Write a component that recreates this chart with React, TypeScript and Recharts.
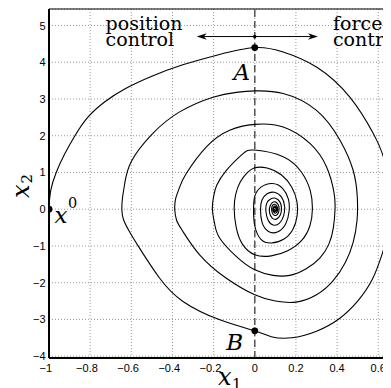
import React from 'react';
import {
  ComposedChart,
  Line,
  Scatter,
  XAxis,
  YAxis,
  CartesianGrid,
  ReferenceLine,
  ReferenceDot,
} from 'recharts';

const X1_TICKS = [-1, -0.8, -0.6, -0.4, -0.2, 0, 0.2, 0.4, 0.6];
const X2_TICKS = [-4, -3, -2, -1, 0, 1, 2, 3, 4, 5];

// trajectory as [x1, x2], in time order (clockwise)
const LOOP_1 = [
  [-1, 0], [-0.992, 0.5], [-0.965, 1.0], [-0.924, 1.5], [-0.874, 2.0], [-0.812, 2.5],
  [-0.73, 2.92], [-0.63, 3.28], [-0.5, 3.62], [-0.35, 3.93], [-0.18, 4.2], [0, 4.4],
  [0.138, 4.28], [0.3, 3.87], [0.462, 3.05], [0.576, 2.06], [0.633, 1.25], [0.655, 0.3],
  [0.658, 0], [0.648, -0.6], [0.62, -1.2], [0.572, -1.9], [0.5, -2.5], [0.41, -2.98],
  [0.3, -3.32], [0.18, -3.5], [0.08, -3.47], [0, -3.31],
  [-0.17, -3.01], [-0.349, -2.51], [-0.462, -1.88], [-0.56, -1.06], [-0.61, -0.6],
  [-0.638, -0.28], [-0.646, 0],
];
const LOOP_2 = [
  [-0.643, 0.3], [-0.632, 0.7], [-0.6, 1.3], [-0.5, 2.04], [-0.365, 2.65], [-0.203, 3.05],
  [-0.09, 3.18], [0, 3.22],
  [0.138, 3.15], [0.3, 2.69], [0.414, 1.88], [0.478, 1.06], [0.498, 0.35], [0.497, -0.3],
  [0.478, -0.9], [0.44, -1.45], [0.38, -1.95], [0.3, -2.33], [0.2, -2.53], [0.1, -2.5], [0, -2.33],
  [-0.138, -1.88], [-0.268, -1.24], [-0.35, -0.6], [-0.38, -0.3], [-0.389, 0],
];
const LOOP_3 = [
  [-0.384, 0.3], [-0.365, 0.6], [-0.333, 0.97], [-0.235, 1.7], [-0.122, 2.15], [0, 2.31],
  [0.138, 2.24], [0.268, 1.79], [0.349, 1.15], [0.385, 0.45], [0.39, 0], [0.382, -0.5],
  [0.36, -0.95], [0.316, -1.33], [0.25, -1.62], [0.17, -1.8], [0.089, -1.8], [0, -1.65],
  [-0.089, -1.29], [-0.17, -0.79], [-0.195, -0.4], [-0.206, 0],
];
const LOOP_4 = [
  [-0.2, 0.35], [-0.185, 0.65], [-0.138, 1.06], [-0.06, 1.5], [0, 1.61],
  [0.138, 1.43], [0.228, 1.0], [0.27, 0.5], [0.28, 0], [0.268, -0.45], [0.228, -0.85],
  [0.16, -1.13], [0.08, -1.27], [0, -1.24],
  [-0.06, -0.95], [-0.09, -0.5], [-0.1, 0],
];
const LOOP_5 = [
  [-0.093, 0.4], [-0.07, 0.75], [-0.035, 1.0], [0, 1.13], [0.06, 1.12], [0.13, 0.93],
  [0.18, 0.6], [0.205, 0.2], [0.205, -0.2], [0.185, -0.55], [0.14, -0.82], [0.08, -0.92],
  [0.03, -0.82], [0, -0.45], [-0.006, 0],
];
const SPIRAL_CORE = [
  [0, 0.35], [0.03, 0.6], [0.085, 0.7], [0.135, 0.57], [0.163, 0.28], [0.167, -0.05], [0.15, -0.4],
  [0.11, -0.62], [0.065, -0.6], [0.035, -0.35], [0.028, 0],
  [0.035, 0.25], [0.06, 0.42], [0.095, 0.46], [0.13, 0.33], [0.145, 0.08], [0.14, -0.18],
  [0.12, -0.38], [0.09, -0.43], [0.065, -0.3], [0.054, -0.05],
  [0.058, 0.16], [0.075, 0.27], [0.1, 0.3], [0.122, 0.2], [0.13, 0.02], [0.124, -0.16],
  [0.105, -0.27], [0.085, -0.24], [0.072, -0.1],
  [0.074, 0.08], [0.085, 0.18], [0.1, 0.2], [0.114, 0.12], [0.118, -0.02], [0.11, -0.14],
  [0.097, -0.17], [0.085, -0.1], [0.082, 0.02],
  [0.087, 0.11], [0.099, 0.13], [0.109, 0.07], [0.111, -0.03], [0.104, -0.1], [0.094, -0.09], [0.088, -0.02],
  [0.091, 0.06], [0.099, 0.08], [0.106, 0.03], [0.105, -0.04], [0.098, -0.06], [0.092, -0.02],
  [0.094, 0.04], [0.099, 0.045], [0.103, 0.01], [0.101, -0.03], [0.097, -0.035], [0.095, 0],
];

// x0, A, B
const MARKED = [[-1, 0], [0, 4.4], [0, -3.31]];

const SWITCH_X1 = 0;
const ARROW_X2 = 4.7;
const ARROW_ENDS = [-0.282, 0.307];

const LABELS = [
  { x1: -0.725, x2: 4.88, text: 'position', kind: 'text' },
  { x1: -0.725, x2: 4.43, text: 'control', kind: 'text' },
  { x1: 0.38, x2: 4.88, text: 'force', kind: 'text' },
  { x1: 0.38, x2: 4.43, text: 'control', kind: 'text' },
  { x1: -0.063, x2: 3.51, text: 'A', kind: 'math' },
  { x1: -0.097, x2: -3.845, text: 'B', kind: 'math' },
  { x1: -0.973, x2: -0.375, text: 'x', sup: '0', kind: 'math' },
];

const toPts = (rows: number[][]) => rows.map(([x1, x2]) => ({ x1, x2 }));
const trajectory = toPts([...LOOP_1, ...LOOP_2, ...LOOP_3, ...LOOP_4, ...LOOP_5, ...SPIRAL_CORE]);
const markedPts = toPts(MARKED);

const SANS = "'Liberation Sans', Arial, Helvetica, sans-serif";
const SERIF = "'DejaVu Serif', 'Liberation Serif', serif";

const fmt = (v: number) => (v < 0 ? '\u2212' + String(-v) : String(v));

const XTick = (props: any) => {
  const { x, y, payload } = props;
  const v = payload.value;
  return (
    <text x={x} y={y + 14} dx={v < 0 ? -3.2 : 0} textAnchor="middle" fontSize={11} fontFamily={SANS} fill="#000">
      {fmt(v)}
    </text>
  );
};

const YTick = (props: any) => {
  const { x, y, payload } = props;
  return (
    <text x={x - 3.5} y={y + 4} textAnchor="end" fontSize={11} fontFamily={SANS} fill="#000">
      {fmt(payload.value)}
    </text>
  );
};

const Arrow = (p: any) => {
  const { x1, y1, x2, y2 } = p;
  const ang = Math.atan2(y2 - y1, x2 - x1);
  const c = Math.cos(ang);
  const s = Math.sin(ang);
  const L = 10;
  const W = 3.2;
  const bx = x2 - L * c;
  const by = y2 - L * s;
  const nx = x2 - L * 0.7 * c;
  const ny = y2 - L * 0.7 * s;
  return (
    <g>
      <line x1={x1} y1={y1} x2={nx} y2={ny} stroke="#000" strokeWidth={1} />
      <path d={`M${x2},${y2} L${bx - s * W},${by + c * W} L${nx},${ny} L${bx + s * W},${by - c * W} Z`} fill="#000" />
      <circle cx={x1} cy={y1} r={1.6} fill="#000" />
    </g>
  );
};

const Annotation = (lab: any) => (p: any) => {
  const { cx, cy } = p;
  if (lab.kind === 'text') {
    return (
      <text x={cx} y={cy} fontSize={19} fontFamily={SERIF} fill="#000">
        {lab.text}
      </text>
    );
  }
  return (
    <text x={cx} y={cy} textAnchor={lab.sup ? 'start' : 'middle'} fontFamily={SERIF} fill="#000">
      <tspan fontSize={23} fontStyle="italic">{lab.text}</tspan>
      {lab.sup ? <tspan fontSize={14.5} dx={0.5} dy={-15}>{lab.sup}</tspan> : null}
    </text>
  );
};

const XLabel = (props: any) => {
  const { x, y } = props.viewBox;
  return (
    <text x={x + 169} y={y + 27} fontFamily={SERIF} fill="#000">
      <tspan fontSize={24} fontStyle="italic">x</tspan>
      <tspan fontSize={15} dx={0.5} dy={4}>1</tspan>
    </text>
  );
};

const YLabel = (props: any) => {
  const { x, y } = props.viewBox;
  const X = x + 21;
  const Y = y + 189;
  return (
    <text x={X} y={Y} transform={`rotate(-90, ${X}, ${Y})`} fontFamily={SERIF} fill="#000">
      <tspan fontSize={24} fontStyle="italic">x</tspan>
      <tspan fontSize={15} dx={1} dy={3}>2</tspan>
    </text>
  );
};

export default function App() {
  return (
    <ComposedChart width={383} height={380} margin={{ top: 1, right: 0, bottom: 0, left: 0 }}>
      <CartesianGrid stroke="#9a9a9a" strokeDasharray="1 2" />
      <XAxis
        dataKey="x1"
        type="number"
        domain={[-1, 0.662]}
        ticks={X1_TICKS}
        interval={0}
        allowDataOverflow
        height={30}
        tickLine={false}
        tickSize={0}
        tickMargin={0}
        tick={<XTick />}
        axisLine={{ stroke: '#000', strokeWidth: 2 }}
        label={{ content: XLabel }}
      />
      <YAxis
        dataKey="x2"
        type="number"
        domain={[-4.05, 5.45]}
        ticks={X2_TICKS}
        interval={0}
        allowDataOverflow
        width={41}
        tickLine={false}
        tickSize={0}
        tickMargin={0}
        tick={<YTick />}
        axisLine={{ stroke: '#000', strokeWidth: 2 }}
        label={{ content: YLabel }}
      />
      <ReferenceLine y={5.45} stroke="#000" strokeWidth={1.2} ifOverflow="visible" />
      <ReferenceLine x={SWITCH_X1} stroke="#555" strokeWidth={1.5} strokeDasharray="7 4" />
      {ARROW_ENDS.map((end) => (
        <ReferenceLine
          key={end}
          segment={[{ x: SWITCH_X1, y: ARROW_X2 }, { x: end, y: ARROW_X2 }]}
          shape={Arrow}
        />
      ))}
      <Line
        data={trajectory}
        dataKey="x2"
        type="natural"
        dot={false}
        stroke="#000"
        strokeWidth={1.1}
        isAnimationActive={false}
      />
      <Scatter
        data={markedPts}
        dataKey="x2"
        fill="#000"
        shape={(p: any) => <circle cx={p.cx} cy={p.cy} r={3.4} fill="#000" />}
        isAnimationActive={false}
      />
      {LABELS.map((lab, i) => (
        <ReferenceDot key={i} x={lab.x1} y={lab.x2} r={0} ifOverflow="visible" shape={Annotation(lab)} />
      ))}
    </ComposedChart>
  );
}
